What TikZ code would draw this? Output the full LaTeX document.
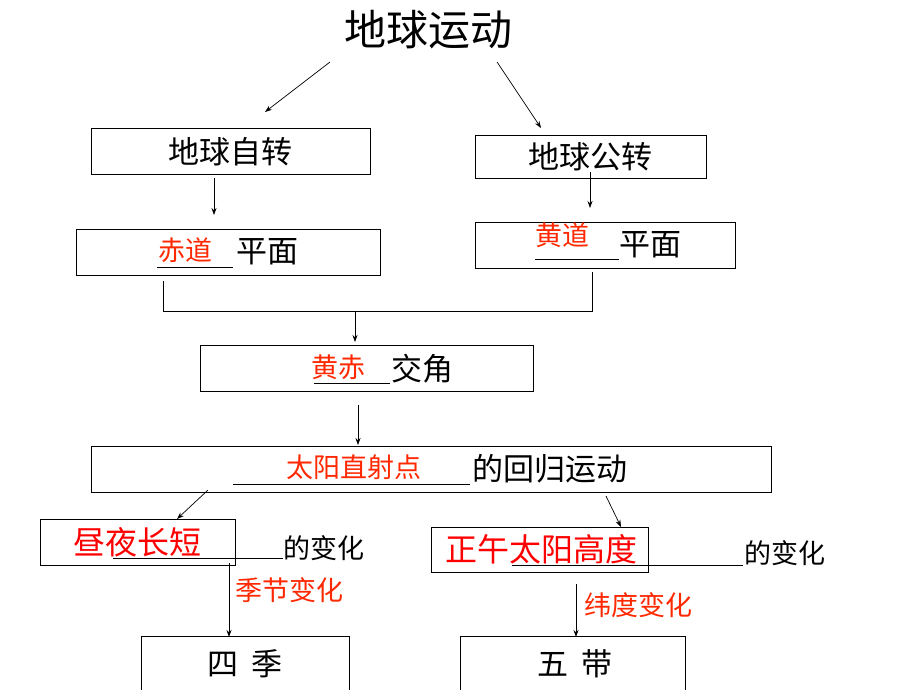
\documentclass[tikz,border=0pt]{standalone}
\usepackage{fontspec}
\setmainfont{Noto Sans CJK SC}
\definecolor{keyred}{RGB}{255, 40, 0}
\definecolor{pure}{RGB}{255, 0, 0}
\usetikzlibrary{arrows.meta}

\begin{document}
\begin{tikzpicture}[x=1pt, y=-1pt,
    box/.style={draw, line width=1pt, rectangle, inner sep=0pt},
    blk/.style={font=\fontsize{31}{34}\selectfont, inner sep=0pt},
    red/.style={font=\fontsize{27}{30}\selectfont, text=keyred, inner sep=0pt},
    bigred/.style={font=\fontsize{32}{35}\selectfont, text=pure, inner sep=0pt},
    arr/.style={-{Stealth[length=7pt, width=5pt]}, line width=0.7pt},
    uline/.style={line width=0.8pt}]
  \useasboundingbox (0,0) rectangle (920,690);

  % Title and first level
  \node[font=\fontsize{42}{46}\selectfont, inner sep=0pt] (title) at (428,30) {地球运动};
  \node[box, minimum width=279pt, minimum height=46pt] (rot) at (230.5,151) {};
  \node[blk] (rottxt) at (230,152) {地球自转};
  \node[box, minimum width=231pt, minimum height=43pt] (rev) at (590.5,156.5) {};
  \node[blk] (revtxt) at (590,157) {地球公转};
  \coordinate (tl) at (330,62);
  \coordinate (tr) at (497,62);
  \coordinate (rotin) at (265,112);
  \coordinate (revin) at (541,128);
  \draw[arr] (tl) -- (rotin);
  \draw[arr] (tr) -- (revin);

  % Planes
  \node[box, minimum width=304pt, minimum height=46pt] (eqp) at (228,252) {};
  \node[red] (eqred) at (185,250) {赤道};
  \node[blk] (eqtxt) at (267,252) {平面};
  \draw[uline] (157,267) -- (233,267);
  \node[box, minimum width=260pt, minimum height=46pt] (ecp) at (605,245) {};
  \node[red] (ecred) at (562,235) {黄道};
  \node[blk] (ectxt) at (650,245) {平面};
  \draw[uline] (535,259) -- (619,259);
  \coordinate (rotout) at (214,178);
  \coordinate (eqin) at (214,215);
  \coordinate (revout) at (590,172);
  \coordinate (ecin) at (590,208);
  \draw[arr] (rotout) -- (eqin);
  \draw[arr] (revout) -- (ecin);

  % Join of both planes
  \coordinate (eqout) at (163,281);
  \coordinate (ecout) at (592,272);
  \coordinate (jl) at (163,311);
  \coordinate (jr) at (592,311);
  \coordinate (jm) at (355,311);
  \coordinate (angin) at (355,342);
  \draw[line width=0.8pt] (eqout) -- (jl) -- (jr) -- (ecout);
  \node[box, minimum width=333pt, minimum height=46pt] (ang) at (366.5,368) {};
  \node[red] (angred) at (338,367) {黄赤};
  \node[blk] (angtxt) at (422,369) {交角};
  \draw[uline] (314,383) -- (390,383);
  \draw[arr] (jm) -- (angin);

  % Apparent motion of the sun
  \node[box, minimum width=680pt, minimum height=46pt] (sun) at (431,469) {};
  \node[red] (sunred) at (354,467) {太阳直射点};
  \node[blk] (suntxt) at (550,469) {的回归运动};
  \draw[uline] (233,484) -- (470,484);
  \coordinate (angout) at (358,405);
  \coordinate (sunin) at (358,445);
  \draw[arr] (angout) -- (sunin);

  % Day length and noon altitude
  \node[box, minimum width=195pt, minimum height=46pt] (day) at (137.5,542) {};
  \node[bigred] (dayred) at (137,542) {昼夜长短};
  \node[blk, font=\fontsize{27}{30}\selectfont] (daytxt) at (324,548) {的变化};
  \draw[uline] (113,558) -- (283,558);
  \node[box, minimum width=217pt, minimum height=45pt] (alt) at (539.5,549.5) {};
  \node[bigred] (altred) at (541,549) {正午太阳高度};
  \node[blk, font=\fontsize{27}{30}\selectfont] (alttxt) at (785,553) {的变化};
  \draw[uline] (512,565) -- (743,565);
  \coordinate (sunl) at (208,490);
  \coordinate (dayin) at (177,519);
  \coordinate (sunr) at (606,496);
  \coordinate (altin) at (621,527);
  \draw[arr] (sunl) -- (dayin);
  \draw[arr] (sunr) -- (altin);

  % Seasons and zones
  \node[box, minimum width=208pt, minimum height=70pt] (four) at (245,671) {};
  \node[blk] (fourtxt) at (245,664) {四\hspace{0.45em}季};
  \node[box, minimum width=225pt, minimum height=70pt] (five) at (572.5,671) {};
  \node[blk] (fivetxt) at (575,664) {五\hspace{0.45em}带};
  \coordinate (dayout) at (229,563);
  \coordinate (fourin) at (229,637);
  \coordinate (altout) at (576,584);
  \coordinate (fivein) at (576,637);
  \draw[arr] (dayout) -- (fourin);
  \node[red] (seasred) at (289,590) {季节变化};
  \draw[arr] (altout) -- (fivein);
  \node[red] (latred) at (638,605) {纬度变化};
\end{tikzpicture}
\end{document}
